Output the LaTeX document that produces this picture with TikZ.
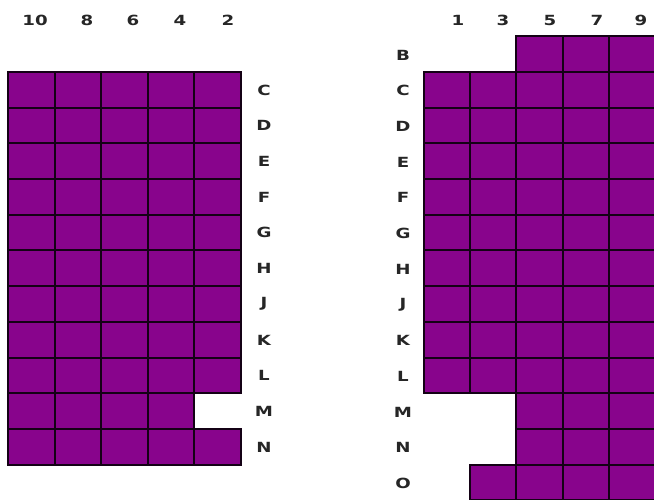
\documentclass[tikz,border=0pt]{standalone}
\usepackage{fontspec}
\newfontfamily\seatfont[FakeStretch=1.3]{DejaVu Sans Bold}
\usetikzlibrary{positioning}

\definecolor{seatpurple}{RGB}{136,4,140}
\tikzset{
  seat/.style={fill=seatpurple, draw=black!85!seatpurple, line width=2pt},
  lbl/.style={font=\seatfont\fontsize{14}{14}\selectfont, text=black!85, inner sep=0pt}
}

\begin{document}
\begin{tikzpicture}[x=1pt,y=-1pt]
    \useasboundingbox (0,0) rectangle (654,500);
    % left block: rows C..N, row/first/last column
    \foreach \r/\a/\b in {0/0/4,1/0/4,2/0/4,3/0/4,4/0/4,5/0/4,6/0/4,7/0/4,8/0/4,9/0/3,10/0/4} {
        \foreach \c in {\a,...,\b} {\draw[seat] (8+46.6*\c,72+35.7*\r) rectangle ++(46.6,35.7);}
    }
    % right block: rows B..O
    \foreach \r/\a/\b in {0/2/4,1/0/4,2/0/4,3/0/4,4/0/4,5/0/4,6/0/4,7/0/4,8/0/4,9/0/4,10/2/4,11/2/4,12/1/4} {
        \foreach \c in {\a,...,\b} {\draw[seat] (424+46.2*\c,36.3+35.7*\r) rectangle ++(46.2,35.7);}
    }
    % column numbers
    \foreach \n/\x in {10/35,8/87,6/133,4/180,2/228} {\node[lbl] (colL\n) at (\x,20) {\n};}
    \foreach \n/\x in {1/458,3/503,5/550,7/597,9/641} {\node[lbl] (colR\n) at (\x,20) {\n};}
    % row letters
    \foreach \l [count=\i from 0] in {C,D,E,F,G,H,J,K,L,M,N} {\node[lbl] (rowL\l) at (264,90+35.7*\i) {\l};}
    \foreach \l [count=\i from 0] in {B,C,D,E,F,G,H,J,K,L,M,N,O} {\node[lbl] (rowR\l) at (403,55+35.7*\i) {\l};}
\end{tikzpicture}
\end{document}
